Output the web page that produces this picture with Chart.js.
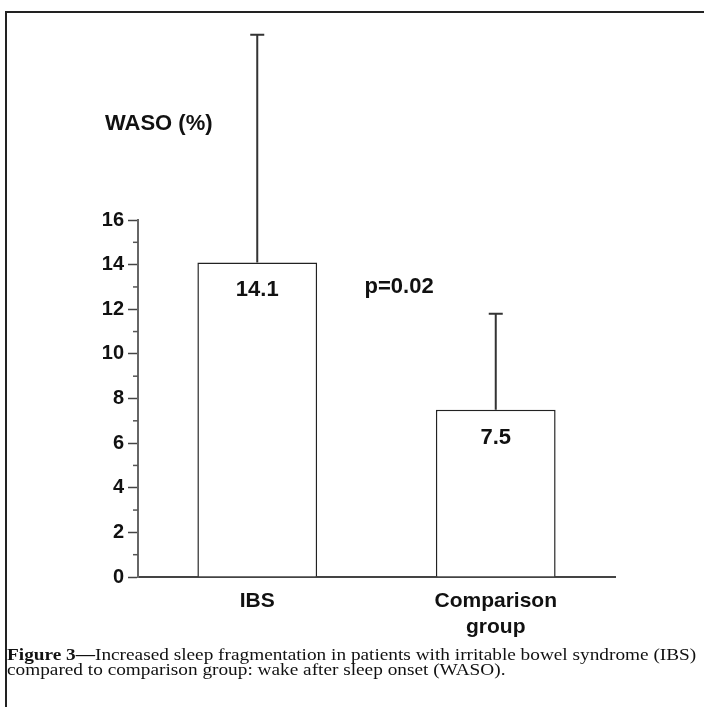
<!DOCTYPE html>
<html>
<head>
<meta charset="utf-8">
<script src="https://cdn.jsdelivr.net/npm/chart.js@4"></script>
<style>
  html, body { margin: 0; padding: 0; background: #fff; }
  body { width: 704px; height: 707px; position: relative; overflow: hidden; }
  #frame { position: absolute; left: 5px; top: 11px; width: 720px; height: 720px;
           border-top: 2px solid #222; border-left: 2px solid #222; }
  #chart { position: absolute; left: 0; top: 0; }
  #caption { position: absolute; left: 7px; top: 647px; font-family: "Liberation Serif", serif;
             font-size: 16px; line-height: 15px; color: #111; white-space: nowrap;
             transform: scaleX(1.205); transform-origin: left top; }
</style>
</head>
<body>
<div id="frame"></div>
<canvas id="chart" width="704" height="707"></canvas>
<div id="caption"><b>Figure 3—</b>Increased sleep fragmentation in patients with irritable bowel syndrome (IBS)<br>compared to comparison group: wake after sleep onset (WASO).</div>
<script>
// Chart values
const categories = [['IBS'], ['Comparison', 'group']];
const means = [14.1, 7.5];
const errorTops = [24.3, 11.8];
const yTickLabels = [0, 2, 4, 6, 8, 10, 12, 14, 16];
const yTitle = 'WASO (%)';
const pValueText = 'p=0.02';

const ink = '#111';
const boldFont = '"Liberation Sans", Arial, sans-serif';

// Error bars, value labels, minor ticks and extra text
const extrasPlugin = {
  id: 'extras',
  afterDatasetsDraw(chart) {
    const ctx = chart.ctx;
    const yScale = chart.scales.y;
    const xScale = chart.scales.x;
    const meta = chart.getDatasetMeta(0);
    ctx.save();

    // error bars (upper only)
    ctx.strokeStyle = '#333';
    ctx.lineWidth = 2;
    meta.data.forEach((bar, i) => {
      const top = yScale.getPixelForValue(errorTops[i]);
      ctx.beginPath();
      ctx.moveTo(bar.x, bar.y);
      ctx.lineTo(bar.x, top);
      ctx.moveTo(bar.x - 7, top);
      ctx.lineTo(bar.x + 7, top);
      ctx.stroke();
    });

    // minor ticks at odd values
    ctx.strokeStyle = '#555';
    ctx.lineWidth = 1.5;
    for (let v = 1; v < 16; v += 2) {
      const y = yScale.getPixelForValue(v);
      ctx.beginPath();
      ctx.moveTo(yScale.right - 5, y);
      ctx.lineTo(yScale.right, y);
      ctx.stroke();
    }

    // value labels inside bars
    ctx.fillStyle = ink;
    ctx.font = 'bold 22px ' + boldFont;
    ctx.textAlign = 'center';
    ctx.textBaseline = 'middle';
    meta.data.forEach((bar, i) => {
      ctx.fillText(means[i].toFixed(1), bar.x, bar.y + 28);
    });

    // p value
    ctx.textAlign = 'left';
    ctx.fillText(pValueText, xScale.getPixelForValue(0.45), yScale.getPixelForValue(13));

    // axis title
    ctx.fillText(yTitle, chart.chartArea.left - 33, chart.chartArea.top - 96);
    ctx.restore();
  }
};

new Chart(document.getElementById('chart'), {
  type: 'bar',
  data: {
    labels: categories,
    datasets: [{
      data: means,
      backgroundColor: '#fff',
      borderColor: '#222',
      borderWidth: 1.5,
      categoryPercentage: 1,
      barPercentage: 0.502
    }]
  },
  options: {
    responsive: false,
    animation: false,
    devicePixelRatio: 1,
    layout: { padding: { left: 0, top: 220, right: 89, bottom: 30 } },
    plugins: {
      legend: { display: false },
      tooltip: { enabled: false }
    },
    scales: {
      x: {
        grid: { display: false },
        border: { display: true, color: '#444', width: 2 },
        ticks: {
          color: ink,
          font: { family: boldFont, size: 21, weight: 'bold', lineHeight: 1.2 },
          padding: 4,
          maxRotation: 0
        },
        afterFit: (scale) => { scale.height = 100; }
      },
      y: {
        min: 0,
        max: 16,
        grid: {
          drawOnChartArea: false,
          drawTicks: true,
          tickLength: 10,
          tickWidth: 1.5,
          tickColor: (c) => yTickLabels.includes(c.tick.value) ? '#444' : 'rgba(0,0,0,0)'
        },
        border: { display: true, color: '#666', width: 2 },
        ticks: {
          stepSize: 1,
          autoSkip: false,
          color: ink,
          padding: 4,
          font: { family: boldFont, size: 20, weight: 'bold' },
          callback: (v) => yTickLabels.includes(v) ? String(v) : ''
        },
        afterFit: (scale) => { scale.width = 138; }
      }
    }
  },
  plugins: [extrasPlugin]
});
</script>
</body>
</html>
